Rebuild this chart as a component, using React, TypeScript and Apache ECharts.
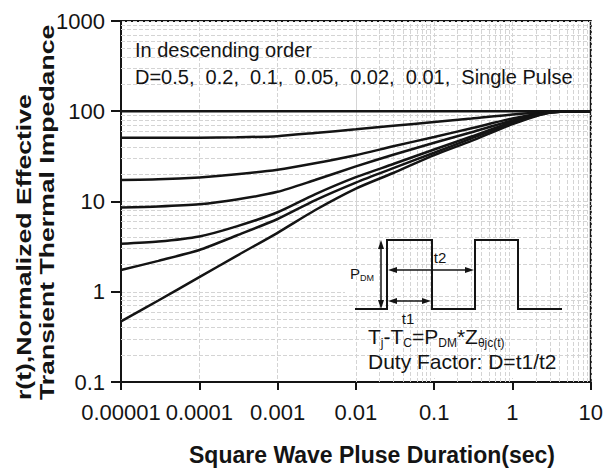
import React, { useEffect, useRef } from 'react';
import * as echarts from 'echarts';

// Pulse durations (sec) at which curves were read
const durations = [1e-5, 3e-5, 1e-4, 3e-4, 1e-3, 3e-3, 1e-2, 3e-2, 0.1, 0.3, 1, 3, 10];

// r(t) curves, in descending order
const curveTop = [100, 100, 100, 100, 100, 100, 100, 100, 100, 100, 100, 100, 100];
const curveD2 = [51, 51, 51, 51.5, 53, 57.5, 63, 69, 76, 83, 92, 98.5, 100];
const curveD3 = [17.3, 17.6, 18.5, 20, 22.5, 26.5, 32.6, 40.9, 51.9, 64.8, 83, 98, 100];
const curveD4 = [8.6, 8.8, 9.3, 10.5, 12.8, 17.3, 24.5, 33, 44.7, 58.5, 79, 97.5, 100];
const curveD5 = [3.4, 3.6, 4.1, 5.3, 7.6, 12, 18.6, 26, 37.7, 52.6, 76, 97, 100];
const curveD6 = [1.74, 2.2, 2.9, 4.2, 6.4, 10.3, 16.2, 23.4, 34.7, 50, 74, 97, 100];
const curvePulse = [0.47, 0.8, 1.45, 2.5, 4.5, 8, 13.9, 20.7, 32.6, 47, 72, 96.5, 100];

const seriesNames = ['D=0.5', 'D=0.2', 'D=0.1', 'D=0.05', 'D=0.02', 'D=0.01', 'Single Pulse'];

const xTickLabels = ['0.00001', '0.0001', '0.001', '0.01', '0.1', '1', '10'];
const yTickLabels = ['0.1', '1', '10', '100', '1000'];

const FONT = '"Liberation Sans", Arial, sans-serif';
const INK = '#141414';

export default function App() {
  const ref = useRef<HTMLDivElement>(null);

  useEffect(() => {
    document.body.style.margin = '0';
    const chart = echarts.init(ref.current!, null, { renderer: 'svg' });

    const curves = [curveTop, curveD2, curveD3, curveD4, curveD5, curveD6, curvePulse];

    const minorX: number[] = [];
    for (let e = -5; e < 1; e++) for (let k = 2; k <= 9; k++) minorX.push(k * Math.pow(10, e));
    const minorY: number[] = [];
    for (let e = -1; e < 3; e++) for (let k = 2; k <= 9; k++) minorY.push(k * Math.pow(10, e));

    const series: any[] = curves.map((c, i) => ({
      name: seriesNames[i],
      type: 'line',
      data: durations.map((t, j) => [t, c[j]]),
      symbol: 'none',
      smooth: 0.25,
      lineStyle: { color: INK, width: 2.5 },
      z: 5,
    }));
    series.push({
      name: 'grid',
      type: 'line',
      data: [],
      silent: true,
      z: 1,
      markLine: {
        silent: true,
        symbol: 'none',
        label: { show: false },
        lineStyle: { color: '#d4d4d4', type: 'dashed', width: 1 },
        data: [
          ...minorX.map((v) => ({ xAxis: v })),
          ...minorY.map((v) => ({ yAxis: v })),
        ],
      },
    });

    const arrowHead = (pts: number[][]) => ({
      type: 'polygon',
      z: 20,
      shape: { points: pts },
      style: { fill: INK },
    });

    chart.setOption({
      animation: false,
      grid: {
        left: 121,
        right: 11,
        top: 21,
        bottom: 87,
        show: true,
        borderColor: INK,
        borderWidth: 2,
        backgroundColor: 'transparent',
      },
      xAxis: {
        type: 'log',
        logBase: 10,
        min: 1e-5,
        max: 10,
        splitNumber: 6,
        axisLine: { show: true, lineStyle: { color: INK, width: 2 } },
        axisTick: { show: true, length: 8, lineStyle: { color: INK, width: 2 } },
        minorTick: { show: false },
        axisLabel: {
          margin: 19,
          fontSize: 22,
          color: INK,
          fontFamily: FONT,
          formatter: (v: number) => xTickLabels[Math.round(Math.log10(v)) + 5],
        },
        splitLine: { show: true, lineStyle: { color: '#d4d4d4', type: 'dashed' } },
      },
      yAxis: {
        type: 'log',
        logBase: 10,
        min: 0.1,
        max: 1000,
        splitNumber: 4,
        axisLine: { show: true, lineStyle: { color: INK, width: 2 } },
        axisTick: { show: true, length: 10, lineStyle: { color: INK, width: 2 } },
        minorTick: { show: false },
        axisLabel: {
          margin: 16,
          fontSize: 22,
          color: INK,
          fontFamily: FONT,
          formatter: (v: number) => yTickLabels[Math.round(Math.log10(v)) + 1],
        },
        splitLine: { show: true, lineStyle: { color: '#d4d4d4', type: 'dashed' } },
      },
      series,
      graphic: [
        // axis titles
        {
          type: 'text',
          x: 24,
          y: 400,
          rotation: Math.PI / 2,
          scaleX: 1.33,
          z: 20,
          style: {
            text: 'r(t),Normalized Effective',
            font: `bold 20px ${FONT}`,
            fill: INK,
            align: 'left',
            verticalAlign: 'middle',
          },
        },
        {
          type: 'text',
          x: 47,
          y: 400,
          rotation: Math.PI / 2,
          scaleX: 1.33,
          z: 20,
          style: {
            text: 'Transient Thermal Impedance',
            font: `bold 20px ${FONT}`,
            fill: INK,
            align: 'left',
            verticalAlign: 'middle',
          },
        },
        {
          type: 'text',
          x: 372,
          y: 455,
          z: 20,
          style: {
            text: 'Square Wave Pluse Duration(sec)',
            font: `bold 23px ${FONT}`,
            fill: INK,
            align: 'center',
            verticalAlign: 'middle',
          },
        },
        // annotation
        {
          type: 'text',
          x: 135,
          y: 50,
          z: 20,
          style: {
            text: 'In descending order',
            font: `20px ${FONT}`,
            fill: INK,
            align: 'left',
            verticalAlign: 'middle',
          },
        },
        {
          type: 'text',
          x: 135,
          y: 77,
          z: 20,
          style: {
            text: 'D=0.5,  0.2,  0.1,  0.05,  0.02,  0.01,  Single Pulse',
            font: `20px ${FONT}`,
            fill: INK,
            align: 'left',
            verticalAlign: 'middle',
          },
        },
        // inset background
        {
          type: 'rect',
          z: 3,
          shape: { x: 345, y: 228, width: 238, height: 150 },
          style: { fill: '#ffffff' },
        },
        // pulse waveform
        {
          type: 'polyline',
          z: 20,
          shape: {
            points: [
              [355, 309], [387, 309], [387, 240], [432, 240], [432, 309],
              [475, 309], [475, 240], [518, 240], [518, 309], [562, 309],
            ],
          },
          style: { stroke: INK, lineWidth: 2, fill: null },
        },
        // P_DM arrow
        { type: 'line', z: 20, shape: { x1: 381, y1: 244, x2: 381, y2: 305 }, style: { stroke: INK, lineWidth: 1.5 } },
        arrowHead([[381, 240], [378, 249], [384, 249]]),
        arrowHead([[381, 309], [378, 300], [384, 300]]),
        // t2 arrow
        { type: 'line', z: 20, shape: { x1: 392, y1: 270, x2: 470, y2: 270 }, style: { stroke: INK, lineWidth: 1.5 } },
        arrowHead([[388, 270], [397, 267], [397, 273]]),
        arrowHead([[474, 270], [465, 267], [465, 273]]),
        // t1 arrow
        { type: 'line', z: 20, shape: { x1: 392, y1: 301, x2: 427, y2: 301 }, style: { stroke: INK, lineWidth: 1.5 } },
        arrowHead([[388, 301], [397, 298], [397, 304]]),
        arrowHead([[431, 301], [422, 298], [422, 304]]),
        {
          type: 'text',
          x: 350,
          y: 273,
          z: 20,
          style: {
            text: '{a|P}{b|DM}',
            rich: {
              a: { fontSize: 15, fontFamily: FONT, fill: INK, lineHeight: 18 },
              b: { fontSize: 9, fontFamily: FONT, fill: INK, verticalAlign: 'bottom' },
            },
            align: 'left',
            verticalAlign: 'middle',
          },
        },
        {
          type: 'text',
          x: 440,
          y: 257,
          z: 20,
          style: { text: 't2', font: `15px ${FONT}`, fill: INK, align: 'center', verticalAlign: 'middle' },
        },
        {
          type: 'text',
          x: 408,
          y: 318,
          z: 20,
          style: { text: 't1', font: `15px ${FONT}`, fill: INK, align: 'center', verticalAlign: 'middle' },
        },
        {
          type: 'text',
          x: 368,
          y: 336,
          z: 20,
          style: {
            text: '{m|T}{s|j}{m|-T}{s|C}{m|=P}{s|DM}{m|*Z}{s|θjc(t)}',
            rich: {
              m: { fontSize: 21, fontFamily: FONT, fill: INK, lineHeight: 26 },
              s: { fontSize: 12, fontFamily: FONT, fill: INK, verticalAlign: 'bottom' },
            },
            align: 'left',
            verticalAlign: 'middle',
          },
        },
        {
          type: 'text',
          x: 368,
          y: 361,
          z: 20,
          style: {
            text: 'Duty Factor: D=t1/t2',
            font: `21px ${FONT}`,
            fill: INK,
            align: 'left',
            verticalAlign: 'middle',
          },
        },
      ],
    });

    return () => chart.dispose();
  }, []);

  return <div ref={ref} style={{ width: 606, height: 469 }} />;
}
